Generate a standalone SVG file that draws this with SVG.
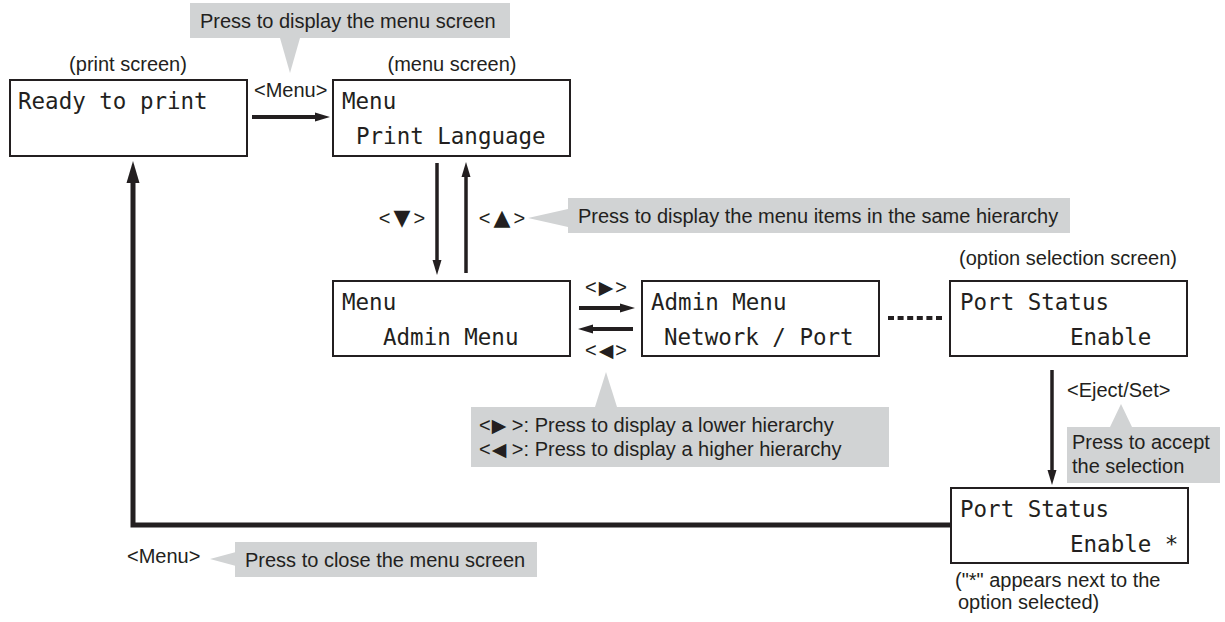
<svg xmlns="http://www.w3.org/2000/svg" width="1225" height="622" viewBox="0 0 1225 622">
<style>
  .scr{fill:#fff;stroke:#231f20;stroke-width:2}
  .mono{font-family:"DejaVu Sans Mono","Liberation Mono",monospace;font-size:22.5px;fill:#231f20}
  .lbl{font-family:"Liberation Sans","DejaVu Sans",sans-serif;font-size:20px;fill:#231f20}
  .tri{font-family:"DejaVu Sans",sans-serif;font-size:19px}
  .tri2{font-family:"DejaVu Sans",sans-serif;font-size:22px}
  .call{fill:#d1d3d4}
  .ln{stroke:#231f20;fill:none}
</style>
<defs>
  <marker id="ah" markerUnits="userSpaceOnUse" markerWidth="16" markerHeight="12" refX="0" refY="6" orient="auto" overflow="visible">
    <path d="M0,1.5 L15,6 L0,10.5 z" fill="#231f20"/>
  </marker>
  <marker id="big" markerUnits="userSpaceOnUse" markerWidth="24" markerHeight="14" refX="0" refY="7" orient="auto" overflow="visible">
    <path d="M0,0.5 L22,7 L0,13.5 z" fill="#231f20"/>
  </marker>
</defs>

<!-- callouts -->
<g id="callout-menu-open">
  <rect class="call" x="190" y="3" width="320" height="35"/>
  <polygon class="call" points="280,38 300,38 290,73"/>
  <text class="lbl" x="200" y="28">Press to display the menu screen</text>
</g>
<g id="callout-same">
  <rect class="call" x="568" y="198" width="502" height="35"/>
  <polygon class="call" points="568,209 568,227 528,218"/>
  <text class="lbl" x="578" y="223">Press to display the menu items in the same hierarchy</text>
</g>
<g id="callout-hier">
  <rect class="call" x="471" y="407" width="418" height="60"/>
  <polygon class="call" points="595,407 617,407 606,372"/>
  <text class="lbl" x="479" y="432">&lt;<tspan class="tri" dx="1">▶</tspan> &gt;: Press to display a lower hierarchy</text>
  <text class="lbl" x="479" y="456">&lt;<tspan class="tri" dx="1">◀</tspan> &gt;: Press to display a higher hierarchy</text>
</g>
<g id="callout-accept">
  <rect class="call" x="1067" y="427" width="153" height="56"/>
  <polygon class="call" points="1110,427 1132,427 1121,404"/>
  <text class="lbl" x="1072" y="449">Press to accept</text>
  <text class="lbl" x="1072" y="473">the selection</text>
</g>
<g id="callout-close">
  <rect class="call" x="235" y="542" width="302" height="35"/>
  <polygon class="call" points="236,552 236,566 210,559"/>
  <text class="lbl" x="245" y="567">Press to close the menu screen</text>
</g>

<!-- connectors -->
<g id="connectors">
  <line class="ln" x1="252" y1="117" x2="315" y2="117" stroke-width="4" marker-end="url(#ah)"/>
  <line class="ln" x1="437" y1="163" x2="437" y2="260" stroke-width="3.5" marker-end="url(#ah)"/>
  <line class="ln" x1="466" y1="273" x2="466" y2="177" stroke-width="3.5" marker-end="url(#ah)"/>
  <line class="ln" x1="579" y1="308" x2="620" y2="308" stroke-width="4" marker-end="url(#ah)"/>
  <line class="ln" x1="633" y1="329" x2="593" y2="329" stroke-width="4" marker-end="url(#ah)"/>
  <line class="ln" x1="888" y1="318" x2="942" y2="318" stroke-width="4" stroke-dasharray="6 3.6"/>
  <line class="ln" x1="1052" y1="370" x2="1052" y2="470" stroke-width="3.5" marker-end="url(#ah)"/>
  <polyline class="ln" points="951,525 133,525 133,183" stroke-width="5" marker-end="url(#big)"/>
  <text class="lbl" x="254" y="97">&lt;Menu&gt;</text>
  <text class="lbl" x="402" y="225" text-anchor="middle">&lt;<tspan class="tri2" dx="3">▼</tspan><tspan dx="3">&gt;</tspan></text>
  <text class="lbl" x="502" y="225" text-anchor="middle">&lt;<tspan class="tri2" dx="3">▲</tspan><tspan dx="3">&gt;</tspan></text>
  <text class="lbl" x="606" y="294" text-anchor="middle">&lt;<tspan class="tri" dx="2">▶</tspan><tspan dx="2">&gt;</tspan></text>
  <text class="lbl" x="606" y="357" text-anchor="middle">&lt;<tspan class="tri" dx="2">◀</tspan><tspan dx="2">&gt;</tspan></text>
  <text class="lbl" x="1067" y="397">&lt;Eject/Set&gt;</text>
  <text class="lbl" x="127" y="563">&lt;Menu&gt;</text>
</g>

<!-- screens -->
<g id="print-screen">
  <text class="lbl" x="128" y="71" text-anchor="middle">(print screen)</text>
  <rect class="scr" x="10" y="80" width="237" height="76"/>
  <text class="mono" x="18" y="109">Ready to print</text>
</g>
<g id="menu-screen">
  <text class="lbl" x="452" y="71" text-anchor="middle">(menu screen)</text>
  <rect class="scr" x="333" y="80" width="237" height="76"/>
  <text class="mono" x="342" y="109">Menu</text>
  <text class="mono" x="356" y="144">Print Language</text>
</g>
<g id="menu-admin">
  <rect class="scr" x="333" y="281" width="237" height="75"/>
  <text class="mono" x="342" y="310">Menu</text>
  <text class="mono" x="383" y="345">Admin Menu</text>
</g>
<g id="admin-network">
  <rect class="scr" x="642" y="281" width="237" height="75"/>
  <text class="mono" x="651" y="310">Admin Menu</text>
  <text class="mono" x="664" y="345">Network / Port</text>
</g>
<g id="option-screen">
  <text class="lbl" x="1068" y="265" text-anchor="middle">(option selection screen)</text>
  <rect class="scr" x="950" y="281" width="237" height="75"/>
  <text class="mono" x="960" y="310">Port Status</text>
  <text class="mono" x="1070" y="345">Enable</text>
</g>
<g id="selected-screen">
  <rect class="scr" x="951" y="488" width="237" height="75"/>
  <text class="mono" x="960" y="517">Port Status</text>
  <text class="mono" x="1070" y="552">Enable *</text>
  <text class="lbl" x="955" y="587">("*" appears next to the</text>
  <text class="lbl" x="958" y="609">option selected)</text>
</g>
</svg>
